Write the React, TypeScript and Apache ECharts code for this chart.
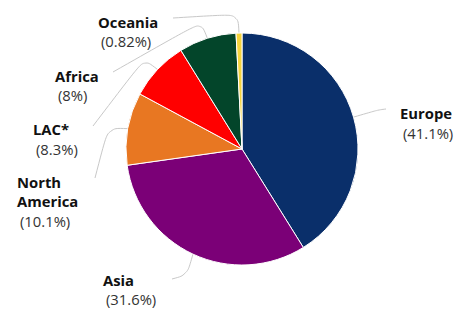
import React, { useEffect, useRef } from "react";
import * as echarts from "echarts";

const categories = ["Europe", "Asia", "North America", "LAC*", "Africa", "Oceania"];
const shares = [41.1, 31.6, 10.1, 8.3, 8, 0.82];
const colors = ["#0a2f6a", "#7b0077", "#e87722", "#ff0000", "#03452a", "#f5d33c"];

// label placement (top-left of text block) and leader-line corner/end points
const labelPlace: { x: number; y: number; corner: number[]; end: number[] }[] = [
  { x: 400, y: 103.5, corner: [378, 110], end: [386, 109] },
  { x: 103, y: 270, corner: [187, 275], end: [172, 279] },
  { x: 17, y: 172, corner: [108, 128], end: [95, 178] },
  { x: 33, y: 119.5, corner: [144, 59], end: [93, 126] },
  { x: 55, y: 66, corner: [201, 22], end: [113, 72] },
  { x: 98, y: 12, corner: [238, 14], end: [173, 18] },
];

export default function App() {
  const ref = useRef<HTMLDivElement>(null);
  useEffect(() => {
    document.body.style.margin = "0";
    const chart = echarts.init(ref.current!, null, { renderer: "svg" });
    chart.setOption({
      animation: false,
      backgroundColor: "#ffffff",
      textStyle: { fontFamily: "Open Sans" },
      series: [
        {
          type: "pie",
          center: [242, 149],
          radius: 116,
          startAngle: 90,
          clockwise: true,
          avoidLabelOverlap: false,
          data: categories.map((c, i) => ({
            name: c,
            value: shares[i],
            itemStyle: { color: colors[i] },
          })),
          itemStyle: { borderColor: "#ffffff", borderWidth: 1 },
          label: {
            show: true,
            position: "outside",
            formatter: (p: any) =>
              p.name.split(" ").map((w: string) => `{n|${w}}`).join("\n") +
              `\n{p|(${p.value}%)}`,
            rich: {
              n: {
                fontFamily: "Open Sans",
                fontWeight: "bold",
                fontSize: 14.8,
                color: "#111111",
                lineHeight: 19.5,
              },
              p: {
                fontFamily: "Open Sans",
                fontSize: 14.8,
                color: "#333333",
                lineHeight: 19.5,
                padding: [0, 0, 0, 3],
              },
            },
          },
          labelLine: {
            show: true,
            smooth: 0.35,
            length: 10,
            length2: 10,
            lineStyle: { color: "#c8c8c8", width: 1 },
          },
          labelLayout: (params: any) => {
            const lp = labelPlace[params.dataIndex];
            const start =
              params.labelLinePoints && params.labelLinePoints[0]
                ? params.labelLinePoints[0]
                : lp.corner;
            return {
              x: lp.x,
              y: lp.y,
              align: "left",
              verticalAlign: "top",
              labelLinePoints: [start, lp.corner, lp.end],
            };
          },
        },
      ],
    });
    return () => chart.dispose();
  }, []);
  return (
    <div
      ref={ref}
      style={{ position: "fixed", left: 0, top: 0, width: 470, height: 309 }}
    />
  );
}
